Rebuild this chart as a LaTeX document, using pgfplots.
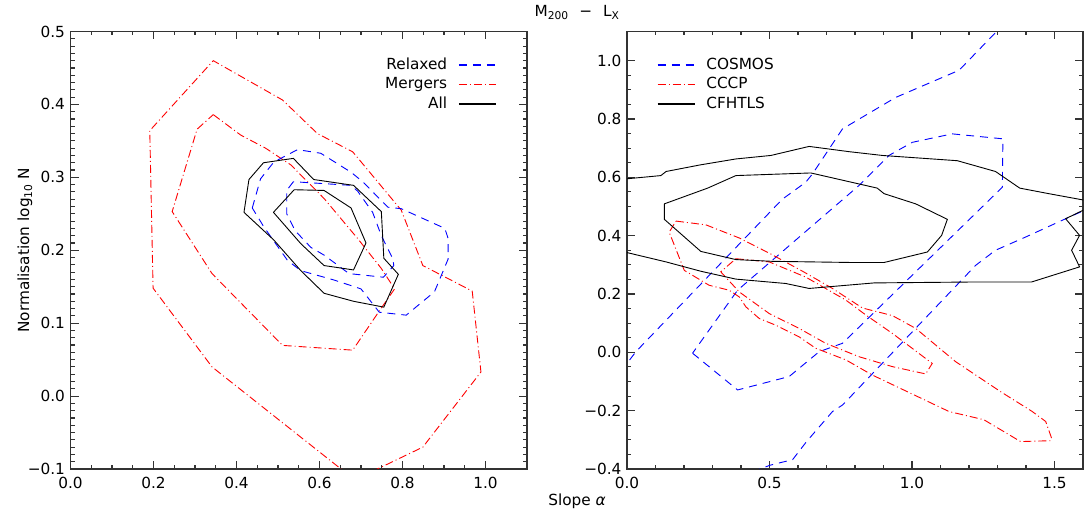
\documentclass[border=0pt]{standalone}
\usepackage{fontspec}
\setmainfont{DejaVu Sans}
\usepackage{pgfplots}
\pgfplotsset{compat=1.18}
\definecolor{idlblue}{RGB}{0,0,255}
\definecolor{idlred}{RGB}{255,0,0}
\newcommand\lf{\fontsize{15.3}{18}\selectfont}
\tikzset{
  bluedash/.style={color=idlblue, line width=0.9pt, dash pattern=on 8pt off 6pt},
  reddashdot/.style={color=idlred, line width=0.9pt, dash pattern=on 8pt off 3pt on 1pt off 3pt},
  blacksolid/.style={color=black, line width=0.9pt},
}
\pgfplotsset{
  idl/.style={
    scale only axis, anchor=south west,
    height=437.5pt,
    axis line style={black!80, line width=1.2pt},
    tick style={black!80, line width=1.1pt},
    major tick length=8pt, minor tick length=4pt,
    tick align=inside,
    ticklabel style={font=\lf},
    xticklabel style={yshift=-5pt},
    yticklabel style={xshift=-2pt},
    legend style={draw=none, fill=none, font=\lf, row sep=3.5pt, inner sep=0pt,
      nodes={text height=11pt, text depth=3pt, inner sep=1pt}},
    legend image code/.code={\draw[##1] (0pt,0pt) -- (37pt,0pt);},
  },
}
\begin{document}
\begin{tikzpicture}
\path[use as bounding box] (0,0) rectangle (1084pt,513pt);
% ---------------- left panel ----------------
\begin{axis}[idl, at={(70.5pt,44pt)}, width=456.5pt,
  xmin=0, xmax=1.1, ymin=-0.1, ymax=0.5,
  xtick={0,0.2,0.4,0.6,0.8,1.0}, xticklabels={0.0,0.2,0.4,0.6,0.8,1.0},
  ytick={-0.1,0,0.1,0.2,0.3,0.4,0.5}, yticklabels={−0.1,0.0,0.1,0.2,0.3,0.4,0.5},
  minor x tick num=3, minor y tick num=9,
  ylabel={\lf Normalisation log\textsubscript{10} N},
  ylabel style={at={(axis description cs:-0.0997,0.5)}, anchor=center, rotate=0},
  legend plot pos=right, legend cell align=right,
  legend style={at={(axis description cs:0.934,0.9417)}, anchor=north east, column sep=10pt},
]
\addlegendimage{draw=idlblue, line width=1.5pt, dash pattern=on 8pt off 6pt}\addlegendentry{Relaxed}
\addlegendimage{draw=idlred, line width=1.5pt, dash pattern=on 8pt off 3pt on 1pt off 3pt}\addlegendentry{Mergers}
\addlegendimage{draw=black, line width=1.5pt}\addlegendentry{All}
% Mergers outer
\addplot[reddashdot, forget plot] coordinates {(0.674,-0.110) (0.341,0.040) (0.199,0.148) (0.191,0.364) (0.344,0.460) (0.511,0.406) (0.595,0.360) (0.680,0.335) (0.797,0.255) (0.849,0.179) (0.968,0.144) (0.989,0.033) (0.849,-0.070) (0.703,-0.110)};
% Mergers inner
\addplot[reddashdot, forget plot] coordinates {(0.344,0.386) (0.41,0.358) (0.47,0.340) (0.531,0.317) (0.611,0.271) (0.692,0.216) (0.749,0.175) (0.781,0.147) (0.748,0.120) (0.680,0.063) (0.511,0.0695) (0.341,0.168) (0.245,0.253) (0.305,0.366) (0.344,0.386)};
% Relaxed outer
\addplot[bluedash, forget plot] coordinates {(0.438,0.258) (0.458,0.298) (0.49,0.321) (0.547,0.338) (0.603,0.333) (0.676,0.307) (0.704,0.294) (0.765,0.259) (0.797,0.257) (0.902,0.230) (0.910,0.216) (0.910,0.188) (0.877,0.143) (0.809,0.111) (0.744,0.115) (0.700,0.147) (0.636,0.159) (0.555,0.172) (0.523,0.186) (0.466,0.232) (0.438,0.258)};
% Relaxed inner
\addplot[bluedash, forget plot] coordinates {(0.537,0.294) (0.521,0.282) (0.521,0.250) (0.541,0.227) (0.579,0.204) (0.612,0.193) (0.671,0.168) (0.754,0.163) (0.779,0.179) (0.777,0.188) (0.749,0.220) (0.728,0.252) (0.692,0.281) (0.676,0.289) (0.537,0.294)};
% All outer
\addplot[blacksolid, forget plot] coordinates {(0.418,0.252) (0.430,0.297) (0.465,0.320) (0.537,0.326) (0.586,0.297) (0.682,0.289) (0.749,0.253) (0.755,0.189) (0.790,0.167) (0.755,0.122) (0.682,0.130) (0.611,0.141) (0.555,0.172) (0.490,0.214) (0.418,0.252)};
% All inner
\addplot[blacksolid, forget plot] coordinates {(0.489,0.252) (0.539,0.283) (0.611,0.282) (0.676,0.258) (0.712,0.210) (0.682,0.173) (0.611,0.179) (0.555,0.209) (0.489,0.252)};
\end{axis}
% ---------------- right panel ----------------
\begin{axis}[idl, at={(627pt,44pt)}, width=456pt,
  xmin=0, xmax=1.6, ymin=-0.4, ymax=1.1,
  xtick={0,0.5,1.0,1.5}, xticklabels={0.0,0.5,1.0,1.5},
  ytick={-0.4,-0.2,0,0.2,0.4,0.6,0.8,1.0}, yticklabels={−0.4,−0.2,0.0,0.2,0.4,0.6,0.8,1.0},
  minor x tick num=4, minor y tick num=3,
  legend cell align=left,
  legend style={at={(axis description cs:0.065,0.9417)}, anchor=north west, column sep=10pt},
]
\addlegendimage{draw=idlblue, line width=1.5pt, dash pattern=on 8pt off 6pt}\addlegendentry{COSMOS}
\addlegendimage{draw=idlred, line width=1.5pt, dash pattern=on 8pt off 3pt on 1pt off 3pt}\addlegendentry{CCCP}
\addlegendimage{draw=black, line width=1.5pt}\addlegendentry{CFHTLS}
% COSMOS outer (two branches)
\addplot[bluedash, forget plot] coordinates {(-0.02,-0.065) (0,-0.038) (0.031,0.002) (0.545,0.525) (0.627,0.583) (0.651,0.612) (0.756,0.766) (0.943,0.874) (1.165,0.967) (1.293,1.096) (1.32,1.13)};
\addplot[bluedash, forget plot] coordinates {(0.44,-0.41) (0.502,-0.387) (0.581,-0.368) (0.630,-0.306) (0.721,-0.203) (0.757,-0.180) (1.223,0.298) (1.293,0.350) (1.398,0.395) (1.539,0.458) (1.582,0.477) (1.63,0.497)};
% COSMOS inner
\addplot[bluedash, forget plot] coordinates {(0.230,-0.003) (0.388,-0.129) (0.569,-0.083) (0.674,0.002) (0.756,0.031) (1.317,0.566) (1.319,0.732) (1.141,0.749) (1.001,0.720) (0.919,0.675) (0.814,0.572) (0.388,0.213) (0.230,-0.003)};
% CCCP outer
\addplot[reddashdot, forget plot] coordinates {(0.172,0.450) (0.277,0.437) (0.394,0.392) (0.499,0.340) (0.616,0.278) (0.721,0.219) (0.826,0.152) (0.931,0.126) (1.013,0.082) (1.153,-0.032) (1.311,-0.135) (1.422,-0.203) (1.469,-0.237) (1.490,-0.295) (1.486,-0.303) (1.381,-0.306) (1.252,-0.231) (1.130,-0.203) (0.861,-0.078) (0.768,-0.026) (0.662,0.014) (0.604,0.053) (0.522,0.093) (0.464,0.116) (0.417,0.156) (0.394,0.190) (0.358,0.213) (0.288,0.230) (0.201,0.281) (0.148,0.412) (0.172,0.450)};
% CCCP inner
\addplot[reddashdot, forget plot] coordinates {(0.382,0.321) (0.499,0.310) (0.627,0.258) (0.768,0.179) (0.838,0.128) (0.931,0.065) (1.071,-0.038) (1.048,-0.074) (0.931,-0.049) (0.814,-0.015) (0.697,0.031) (0.604,0.082) (0.499,0.133) (0.394,0.207) (0.329,0.276) (0.382,0.321)};
% CFHTLS outer
\addplot[blacksolid, forget plot] coordinates {(-0.02,0.593) (0,0.595) (0.119,0.606) (0.137,0.620) (0.259,0.643) (0.382,0.663) (0.505,0.675) (0.639,0.706) (0.779,0.688) (0.896,0.675) (1.159,0.657) (1.293,0.620) (1.378,0.563) (1.480,0.544) (1.597,0.523) (1.65,0.515) (1.65,0.49) (1.60,0.487) (1.539,0.458) (1.588,0.401) (1.560,0.350) (1.588,0.293) (1.419,0.241) (1.20,0.241) (0.867,0.238) (0.639,0.219) (0.557,0.236) (0.382,0.251) (0.259,0.278) (0.137,0.310) (0,0.342) (-0.02,0.346)};
% CFHTLS inner
\addplot[blacksolid, forget plot] coordinates {(0.131,0.509) (0.131,0.456) (0.259,0.346) (0.382,0.318) (0.510,0.312) (0.790,0.308) (0.902,0.308) (1.054,0.344) (1.104,0.401) (1.124,0.456) (1.013,0.509) (0.902,0.544) (0.878,0.563) (0.645,0.615) (0.382,0.606) (0.283,0.563) (0.131,0.509)};
\end{axis}
\node[font=\lf] at (577pt,500pt) {M\textsubscript{200}\hspace{0.7em}−\hspace{0.7em}L\textsubscript{X}};
\node[font=\lf] at (577pt,12pt) {Slope \textit{α}};
\end{tikzpicture}
\end{document}
